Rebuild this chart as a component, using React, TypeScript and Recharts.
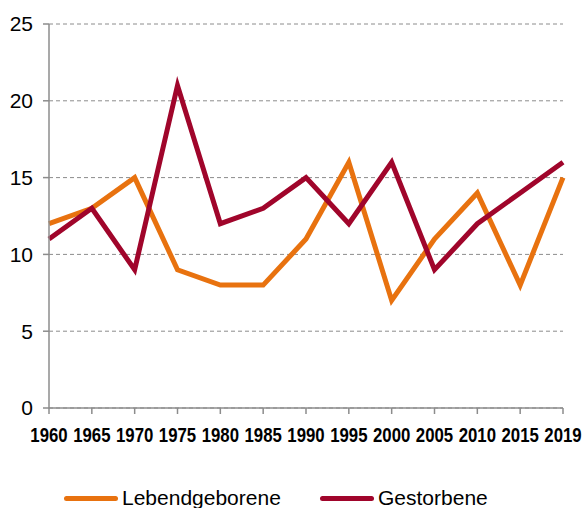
import React from "react";
import {
	LineChart,
	Line,
	XAxis,
	YAxis,
	CartesianGrid,
	Legend,
} from "recharts";

const years = [
	"1960", "1965", "1970", "1975", "1980", "1985", "1990",
	"1995", "2000", "2005", "2010", "2015", "2019",
];
const lebendgeborene = [12, 13, 15, 9, 8, 8, 11, 16, 7, 11, 14, 8, 15];
const gestorbene = [11, 13, 9, 21, 12, 13, 15, 12, 16, 9, 12, 14, 16];
const yTicks = [0, 5, 10, 15, 20, 25];

const data = years.map((year, i) => ({
	year,
	Lebendgeborene: lebendgeborene[i],
	Gestorbene: gestorbene[i],
}));

const ORANGE = "#E8720F";
const RED = "#A0052B";
const AXIS = "#8c8c8c";
const FONT = "'Liberation Sans', Arial, sans-serif";

const series = [
	{ name: "Lebendgeborene", color: ORANGE, left: 64 },
	{ name: "Gestorbene", color: RED, left: 320 },
];

// condensed bold year labels (no narrow font installed)
const YearTick = ({ x, y, payload }: any) => (
	<text
		transform={`translate(${x},${y}) scale(0.84,1)`}
		textAnchor="middle"
		dy="0.71em"
		fill="#000"
		fontSize={20}
		fontWeight="bold"
		fontFamily={FONT}
	>
		{payload.value}
	</text>
);

const LegendContent = () => (
	<div style={{ position: "relative", height: 55, width: 585 }}>
		{series.map((s) => (
			<div
				key={s.name}
				style={{
					position: "absolute",
					left: s.left,
					top: 33,
					display: "flex",
					alignItems: "center",
					fontFamily: FONT,
					fontSize: 21,
					color: "#000",
					lineHeight: "24px",
				}}
			>
				<span
					style={{
						display: "inline-block",
						width: 54,
						height: 5,
						borderRadius: 3,
						background: s.color,
						marginRight: 4,
					}}
				/>
				{s.name}
			</div>
		))}
	</div>
);

export default function App() {
	return (
		<div style={{ position: "absolute", left: 0, top: 0, background: "#fff" }}>
			<LineChart
				width={585}
				height={508}
				data={data}
				margin={{ top: 24, right: 22, bottom: 0, left: 0 }}
			>
				<CartesianGrid
					horizontal
					vertical={false}
					stroke={AXIS}
					strokeDasharray="4 3"
				/>
				<XAxis
					dataKey="year"
					interval={0}
					axisLine={{ stroke: AXIS, strokeWidth: 1.5 }}
					tickLine={{ stroke: AXIS, strokeWidth: 1.5 }}
					tickSize={6}
					tickMargin={14}
					height={45}
					tick={<YearTick />}
				/>
				<YAxis
					domain={[0, 25]}
					ticks={yTicks}
					interval={0}
					width={49}
					axisLine={{ stroke: AXIS, strokeWidth: 1.5 }}
					tickLine={{ stroke: AXIS, strokeWidth: 1.5 }}
					tickSize={6}
					tickMargin={10}
					tick={{ fill: "#000", fontSize: 21, fontFamily: FONT }}
				/>
				<Legend
					verticalAlign="bottom"
					height={55}
					content={<LegendContent />}
					wrapperStyle={{ left: 0, bottom: 0, width: 585 }}
				/>
				<Line
					dataKey="Lebendgeborene"
					stroke={ORANGE}
					strokeWidth={5}
					dot={false}
					isAnimationActive={false}
				/>
				<Line
					dataKey="Gestorbene"
					stroke={RED}
					strokeWidth={5}
					dot={false}
					isAnimationActive={false}
				/>
			</LineChart>
		</div>
	);
}
